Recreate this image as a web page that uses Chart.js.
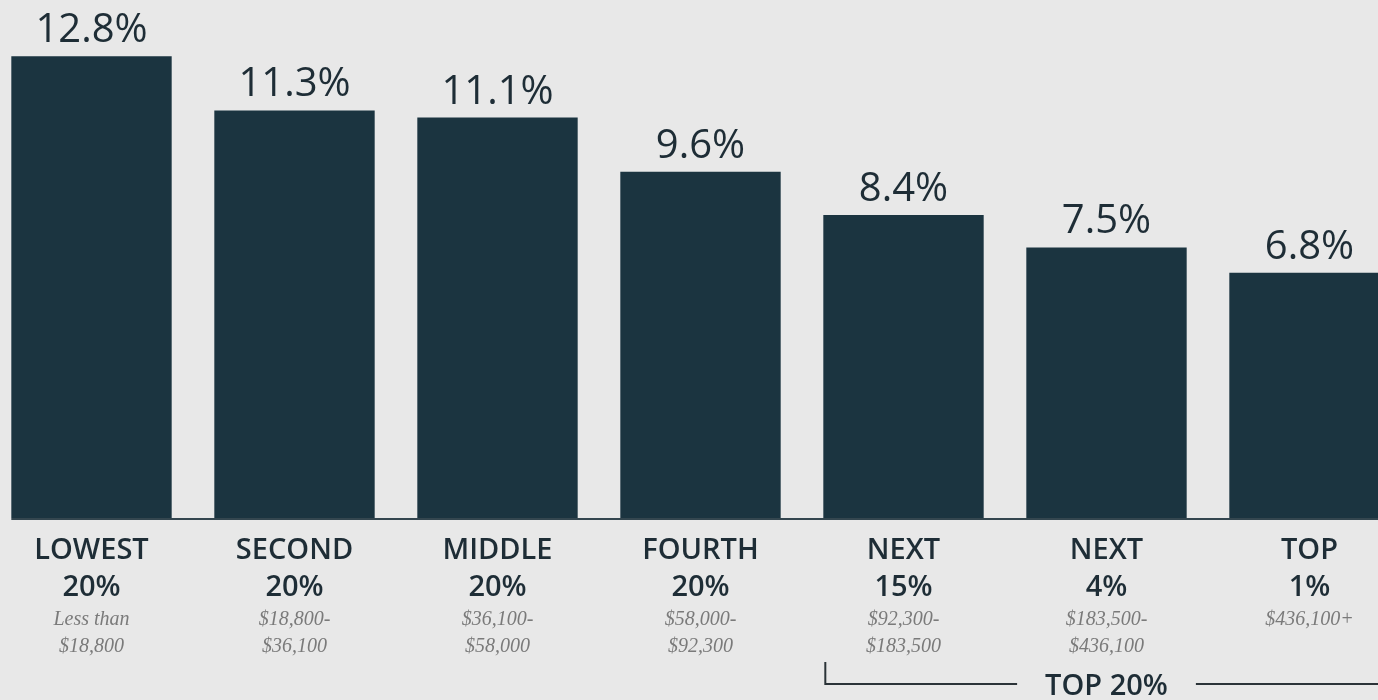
<!DOCTYPE html>
<html>
<head>
<meta charset="utf-8">
<script src="https://cdn.jsdelivr.net/npm/chart.js@4.4.1/dist/chart.umd.min.js"></script>
<style>
  html, body { margin: 0; padding: 0; background: #e8e8e8; overflow: hidden; }
  #wrap { position: absolute; left: -10px; top: 0; width: 1421px; height: 700px; }
</style>
</head>
<body>
<div id="wrap"><canvas id="taxChart"></canvas></div>
<script>
// income groups, their share of families, income ranges and tax rates
var groups = ['LOWEST', 'SECOND', 'MIDDLE', 'FOURTH', 'NEXT', 'NEXT', 'TOP'];
var shares = ['20%', '20%', '20%', '20%', '15%', '4%', '1%'];
var incomeRanges = [
    ['Less than', '$18,800'],
    ['$18,800-', '$36,100'],
    ['$36,100-', '$58,000'],
    ['$58,000-', '$92,300'],
    ['$92,300-', '$183,500'],
    ['$183,500-', '$436,100'],
    ['$436,100+']
];
var taxRates = [12.8, 11.3, 11.1, 9.6, 8.4, 7.5, 6.8];
var bracketLabel = 'TOP 20%';
var bracketFrom = 4;
var bracketTo = 6;

var textColor = '#1e2d36';

var labelsPlugin = {
    id: 'labelsPlugin',
    afterDatasetsDraw: function (chart) {
        var ctx = chart.ctx;
        var bars = chart.getDatasetMeta(0).data;
        var area = chart.chartArea;
        ctx.save();

        // baseline
        var first = bars[0];
        ctx.strokeStyle = '#34464f';
        ctx.lineWidth = 2;
        ctx.beginPath();
        ctx.moveTo(first.x - first.width / 2, area.bottom + 1);
        ctx.lineTo(chart.width, area.bottom + 1);
        ctx.stroke();

        ctx.textAlign = 'center';
        ctx.textBaseline = 'alphabetic';
        bars.forEach(function (bar, i) {
            // value above bar
            ctx.fillStyle = textColor;
            ctx.font = '500 40px "Open Sans"';
            ctx.fillText(taxRates[i].toFixed(1) + '%', bar.x, bar.y - 14);

            // group name and share
            ctx.font = '600 29px "Open Sans"';
            ctx.fillText(groups[i], bar.x, 559);
            ctx.fillText(shares[i], bar.x, 596);

            // income range
            ctx.fillStyle = '#7a7a7a';
            ctx.font = 'italic 20px "Liberation Serif"';
            incomeRanges[i].forEach(function (line, j) {
                ctx.fillText(line, bar.x, 625 + j * 27);
            });
        });

        // bracket for the top 20%
        var a = bars[bracketFrom];
        var mid = bars[bracketFrom + 1];
        var lineY = 684;
        ctx.font = '600 29px "Open Sans"';
        var tw = ctx.measureText(bracketLabel).width;
        ctx.strokeStyle = '#2b3338';
        ctx.lineWidth = 2;
        ctx.beginPath();
        ctx.moveTo(a.x - a.width / 2 + 2, 662);
        ctx.lineTo(a.x - a.width / 2 + 2, lineY);
        ctx.lineTo(mid.x - tw / 2 - 28, lineY);
        ctx.moveTo(mid.x + tw / 2 + 28, lineY);
        ctx.lineTo(chart.width, lineY);
        ctx.stroke();
        ctx.fillStyle = textColor;
        ctx.fillText(bracketLabel, mid.x, 695);

        ctx.restore();
    }
};

var ctx = document.getElementById('taxChart').getContext('2d');

new Chart(ctx, {
    type: 'bar',
    data: {
        labels: groups.map(function (g, i) { return [g, shares[i]]; }),
        datasets: [{
            data: taxRates,
            backgroundColor: '#1b3440',
            barPercentage: 0.79,
            categoryPercentage: 1
        }]
    },
    options: {
        responsive: true,
        maintainAspectRatio: false,
        animation: false,
        layout: {
            padding: { top: 13, bottom: 182, left: 0, right: 0 }
        },
        plugins: {
            legend: { display: false },
            tooltip: { enabled: false }
        },
        scales: {
            x: { display: false },
            y: { display: false, min: 0, max: 14 }
        }
    },
    plugins: [labelsPlugin]
});
</script>
</body>
</html>
